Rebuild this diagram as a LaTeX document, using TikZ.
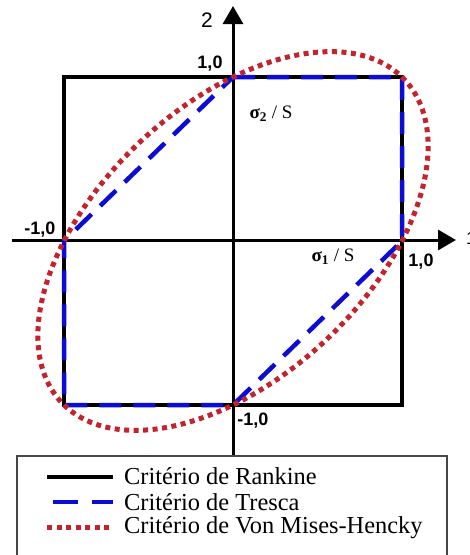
\documentclass[tikz,border=0pt]{standalone}
\usepackage{fontspec}
\setmainfont{Liberation Serif}
\newfontfamily\arialfont{Liberation Sans}
\usetikzlibrary{arrows.meta}
\definecolor{trescablue}{RGB}{12,12,215}
\definecolor{vmred}{RGB}{195,35,45}
\definecolor{boxgray}{RGB}{70,70,70}
\begin{document}
\begin{tikzpicture}[x=1pt,y=-1pt,
  axis/.style={line width=3pt,black},
  axisarrow/.style={line width=3pt,black,-{Triangle[length=18pt,width=20pt]}},
  rankine/.style={line width=4.5pt,black,line join=miter},
  tresca/.style={line width=4.5pt,trescablue,dash pattern=on 22pt off 12pt},
  vonmises/.style={line width=5pt,vmred,dash pattern=on 5pt off 4.5pt},
  numlab/.style={font=\arialfont\bfseries\fontsize{18}{18}\selectfont,inner sep=0pt},
  siglab/.style={font=\fontsize{19}{19}\selectfont,inner sep=0pt},
  legtext/.style={font=\fontsize{24.4}{24}\selectfont,inner sep=0pt,anchor=west},
  legbox/.style={line width=1.6pt,boxgray}]
\useasboundingbox (0,0) rectangle (470,555);
\fill[white] (0,0) rectangle (470,555);
% axes
\coordinate (xl) at (12,240);
\coordinate (xr) at (456,240);
\coordinate (yt) at (233,6);
\coordinate (yb) at (233,456);
\coordinate (org) at (233,240);
\draw[axis] (yb) -- (org);
\draw[axisarrow] (org) -- (yt);
\draw[axis] (xl) -- (org);
\draw[axisarrow] (org) -- (xr);
% criteria
\begin{scope}[shift={(233,241)},x=169pt,y=164pt]
  \draw[rankine] (-1,-1) rectangle (1,1);
  \draw[tresca] (0,1) -- (1,1) -- (1,0) -- (0,-1) -- (-1,-1) -- (-1,0) -- cycle;
  \draw[vonmises] plot[domain=0:360,samples=200,smooth]
    ({cos(\x)+sin(\x)/sqrt(3)},{cos(\x)-sin(\x)/sqrt(3)}) -- cycle;
\end{scope}
% labels
\node[font=\arialfont\fontsize{21}{21}\selectfont,inner sep=0pt] (lab2) at (207,20) {2};
\node[numlab] (ltop) at (210,64) {1,0};
\node[numlab] (lleft) at (40,230) {-1,0};
\node[numlab] (lright) at (421,262) {1,0};
\node[numlab] (lbot) at (253,421) {-1,0};
\node[siglab] (s2) at (271,114) {{\bfseries σ\textsubscript{2}} / S};
\node[siglab] (s1) at (333,257) {{\bfseries σ\textsubscript{1}} / S};
\node[font=\arialfont\fontsize{18}{18}\selectfont,inner sep=0pt,anchor=west] (cut) at (466,238) {1};
% legend
\draw[legbox] (17,456) rectangle (447,600);
\coordinate (r1a) at (47,477); \coordinate (r1b) at (113,477);
\coordinate (r2a) at (53,502); \coordinate (r2b) at (113,502);
\coordinate (r3a) at (47,527); \coordinate (r3b) at (113,527);
\draw[line width=4.5pt,black] (r1a) -- (r1b);
\draw[line width=4.5pt,trescablue,dash pattern=on 25pt off 14pt] (r2a) -- (r2b);
\draw[line width=5pt,vmred,dash pattern=on 5pt off 4.5pt] (r3a) -- (r3b);
\node[legtext] (t1) at (124,476) {Critério de Rankine};
\node[legtext] (t2) at (124,502) {Critério de Tresca};
\node[legtext] (t3) at (124,528) {Critério de Von Mises-Hencky};
\end{tikzpicture}
\end{document}
